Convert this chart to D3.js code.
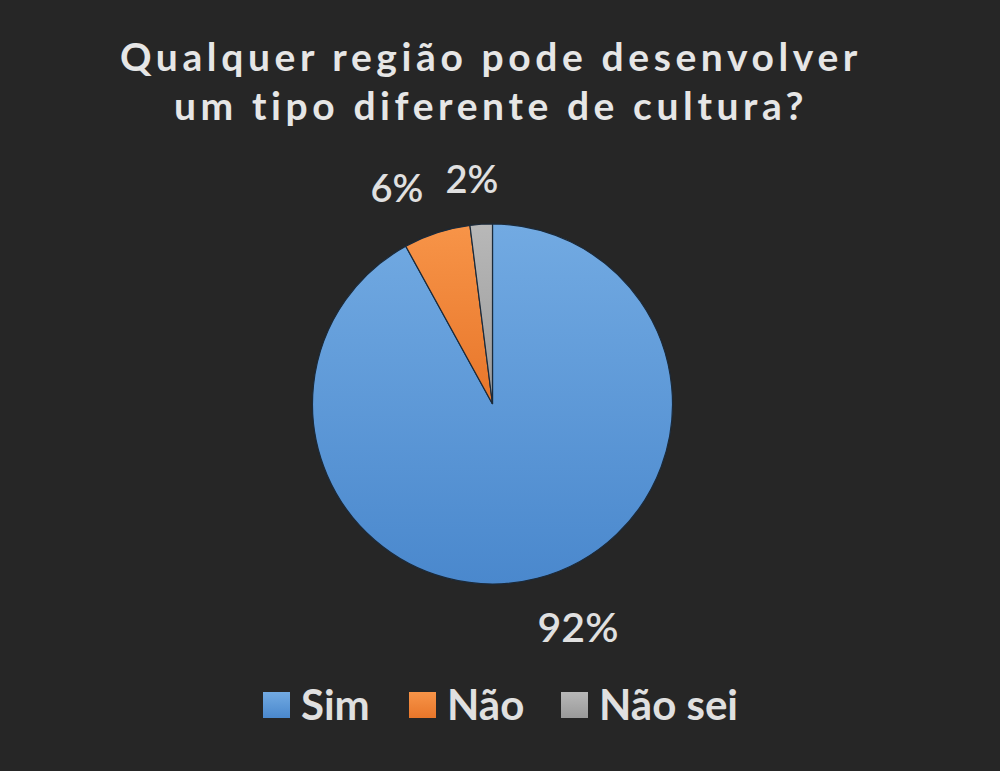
<!DOCTYPE html>
<html><head><meta charset="utf-8">
<script src="https://cdn.jsdelivr.net/npm/d3@7"></script>
<style>html,body{margin:0;padding:0;background:#262626;}</style>
</head><body>
<svg id="chart" width="1000" height="771"></svg>
<script>
const categories = ["Sim", "Não", "Não sei"];
const values = [92, 6, 2];
const labels = ["92%", "6%", "2%"];
const titleLines = ["Qualquer região pode desenvolver", "um tipo diferente de cultura?"];
const colors = [["#72aae2", "#4a88cd"], ["#f79448", "#e8762a"], ["#b8b8b8", "#9a9a9a"]];

const svg = d3.select("#chart");
svg.append("rect").attr("width", 1000).attr("height", 771).attr("fill", "#262626");

const defs = svg.append("defs");
colors.forEach((c, i) => {
  const g = defs.append("linearGradient").attr("id", "g" + i)
    .attr("x1", 0).attr("y1", 0).attr("x2", 0).attr("y2", 1);
  g.append("stop").attr("offset", "0%").attr("stop-color", c[0]);
  g.append("stop").attr("offset", "100%").attr("stop-color", c[1]);
});

const font = "Lato, 'Open Sans', sans-serif";
svg.append("g").selectAll("text").data(titleLines).join("text")
  .attr("x", 491).attr("y", (d, i) => 71 + i * 49)
  .attr("text-anchor", "middle")
  .attr("font-family", font).attr("font-weight", 700).attr("font-size", 39)
  .attr("letter-spacing", 4.6)
  .attr("fill", "#e6e6e6").text(d => d);

const cx = 492.5, cy = 404, r = 180;
const pie = d3.pie().sort(null).value(d => d)(values);
const arc = d3.arc().innerRadius(0).outerRadius(r);
const g = svg.append("g").attr("transform", `translate(${cx},${cy})`);
g.selectAll("path").data(pie).join("path")
  .attr("d", arc)
  .attr("fill", (d, i) => `url(#g${i})`)
  .attr("stroke", "#1b2a3a").attr("stroke-width", 1.2);

// data labels
const labelPos = [[578, 642], [397, 202], [472, 193]];
svg.append("g").selectAll("text").data(labels).join("text")
  .attr("x", (d, i) => labelPos[i][0]).attr("y", (d, i) => labelPos[i][1])
  .attr("text-anchor", "middle")
  .attr("font-family", font).attr("font-weight", 600).attr("font-size", (d, i) => i === 0 ? 41 : 38)
  .attr("fill", "#e0e0e0").text(d => d);

// legend
const legX = [263, 409, 561];
const leg = svg.append("g");
categories.forEach((c, i) => {
  leg.append("rect").attr("x", legX[i]).attr("y", 692).attr("width", 27).attr("height", 26)
    .attr("fill", `url(#g${i})`);
  leg.append("text").attr("x", legX[i] + 38).attr("y", 720)
    .attr("font-family", font).attr("font-weight", 700).attr("font-size", 42)
    .attr("fill", "#e0e0e0").text(c);
});
</script>
</body></html>
